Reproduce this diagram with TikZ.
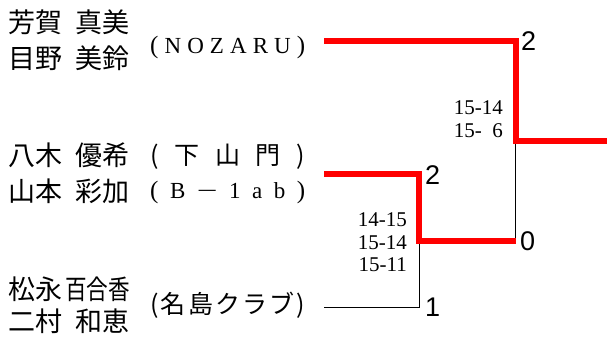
\documentclass[tikz,border=0pt]{standalone}
\usepackage{fontspec}
\setmainfont{Liberation Serif}
\newfontfamily\jp{Noto Sans CJK JP}
\newfontfamily\bigdigit{Liberation Sans}
\newcommand{\spreadteam}[1]{\makebox[155pt][s]{#1}}
\newcommand{\lp}{{\fontsize{25}{25}\selectfont(}}
\newcommand{\rp}{{\fontsize{25}{25}\selectfont)}}
\tikzset{
  person/.style={font=\jp\fontsize{27}{27}\selectfont, text height=23.8pt, text depth=3.2pt, inner sep=0pt},
  team/.style={font=\fontsize{23}{23}\selectfont, text height=19pt, text depth=5pt, inner sep=0pt, anchor=west},
  teamjp/.style={font=\jp\fontsize{25}{25}\selectfont, text height=22pt, text depth=3pt, inner sep=0pt, anchor=west},
  score/.style={font=\fontsize{21}{21}\selectfont, text height=14pt, text depth=0pt, inner sep=0pt, anchor=east},
  result/.style={font=\bigdigit\fontsize{27}{27}\selectfont, text height=19.3pt, text depth=0pt, inner sep=0pt, anchor=west},
  winline/.style={draw=red, line width=6pt},
  loseline/.style={draw=black, line width=1pt},
}
\begin{document}
\begin{tikzpicture}[x=1pt,y=-1pt]
\useasboundingbox (0,0) rectangle (607,341);
% players
\node[person, anchor=west] (a1f) at (8,22) {芳賀};
\node[person, anchor=east] (a1g) at (130,22) {真美};
\node[person, anchor=west] (a2f) at (8,58) {目野};
\node[person, anchor=east] (a2g) at (130,58) {美鈴};
\node[team] (ta) at (150,46) {\spreadteam{\lp\hfill N\hfill O\hfill Z\hfill A\hfill R\hfill U\hfill \rp}};

\node[person, anchor=west] (b1f) at (8,155) {八木};
\node[person, anchor=east] (b1g) at (130,155) {優希};
\node[person, anchor=west] (b2f) at (8,191) {山本};
\node[person, anchor=east] (b2g) at (130,191) {彩加};
\node[teamjp] (tb1) at (150,155) {\spreadteam{\lp\hfill 下\hfill 山\hfill 門\hfill \rp}};
\node[team] (tb2) at (150,191) {\spreadteam{\lp\hfill B\hfill \scalebox{1.6}[1]{−}\hfill 1\hfill a\hfill b\hfill \rp}};

\node[person, anchor=west] (c1f) at (8,289) {松永};
\node[person, anchor=east] (c1g) at (130,289) {\scalebox{0.8}[1]{百合香}};
\node[person, anchor=west] (c2f) at (8,321) {二村};
\node[person, anchor=east] (c2g) at (130,321) {和恵};
\node[teamjp] (tc) at (150,304) {\spreadteam{\lp\hfill 名\hfill 島\hfill ク\hfill ラ\hfill ブ\hfill \rp}};

% bracket coordinates
\coordinate (ea) at (324,41);
\coordinate (eb) at (324,174);
\coordinate (ec) at (324,307);
\coordinate (m1) at (419,174);
\coordinate (m1b) at (419,241);
\coordinate (m1c) at (419,307);
\coordinate (f1) at (515.5,41);
\coordinate (f1b) at (515.5,141);
\coordinate (f1c) at (515.5,241);
\coordinate (win) at (607,141);

% lines
\draw[loseline] (ec) -- (m1c) -- (m1b);
\draw[loseline] (f1b) -- (f1c);
\draw[winline] (eb) -- (m1) -- (m1b) -- (f1c);
\draw[winline] (ea) -- (f1) -- (f1b) -- (win);

% results
\node[result] (r1) at (521,41) {2};
\node[result] (r2) at (425,175) {2};
\node[result] (r3) at (520,241) {0};
\node[result] (r4) at (425,307) {1};

% scores
\node[score] (s1) at (503,107) {15-14};
\node[score] (s2) at (503,130) {15-\hphantom{1}6};
\node[score] (s3) at (407,219) {14-15};
\node[score] (s4) at (407,242) {15-14};
\node[score] (s5) at (407,264) {15-11};
\end{tikzpicture}
\end{document}
